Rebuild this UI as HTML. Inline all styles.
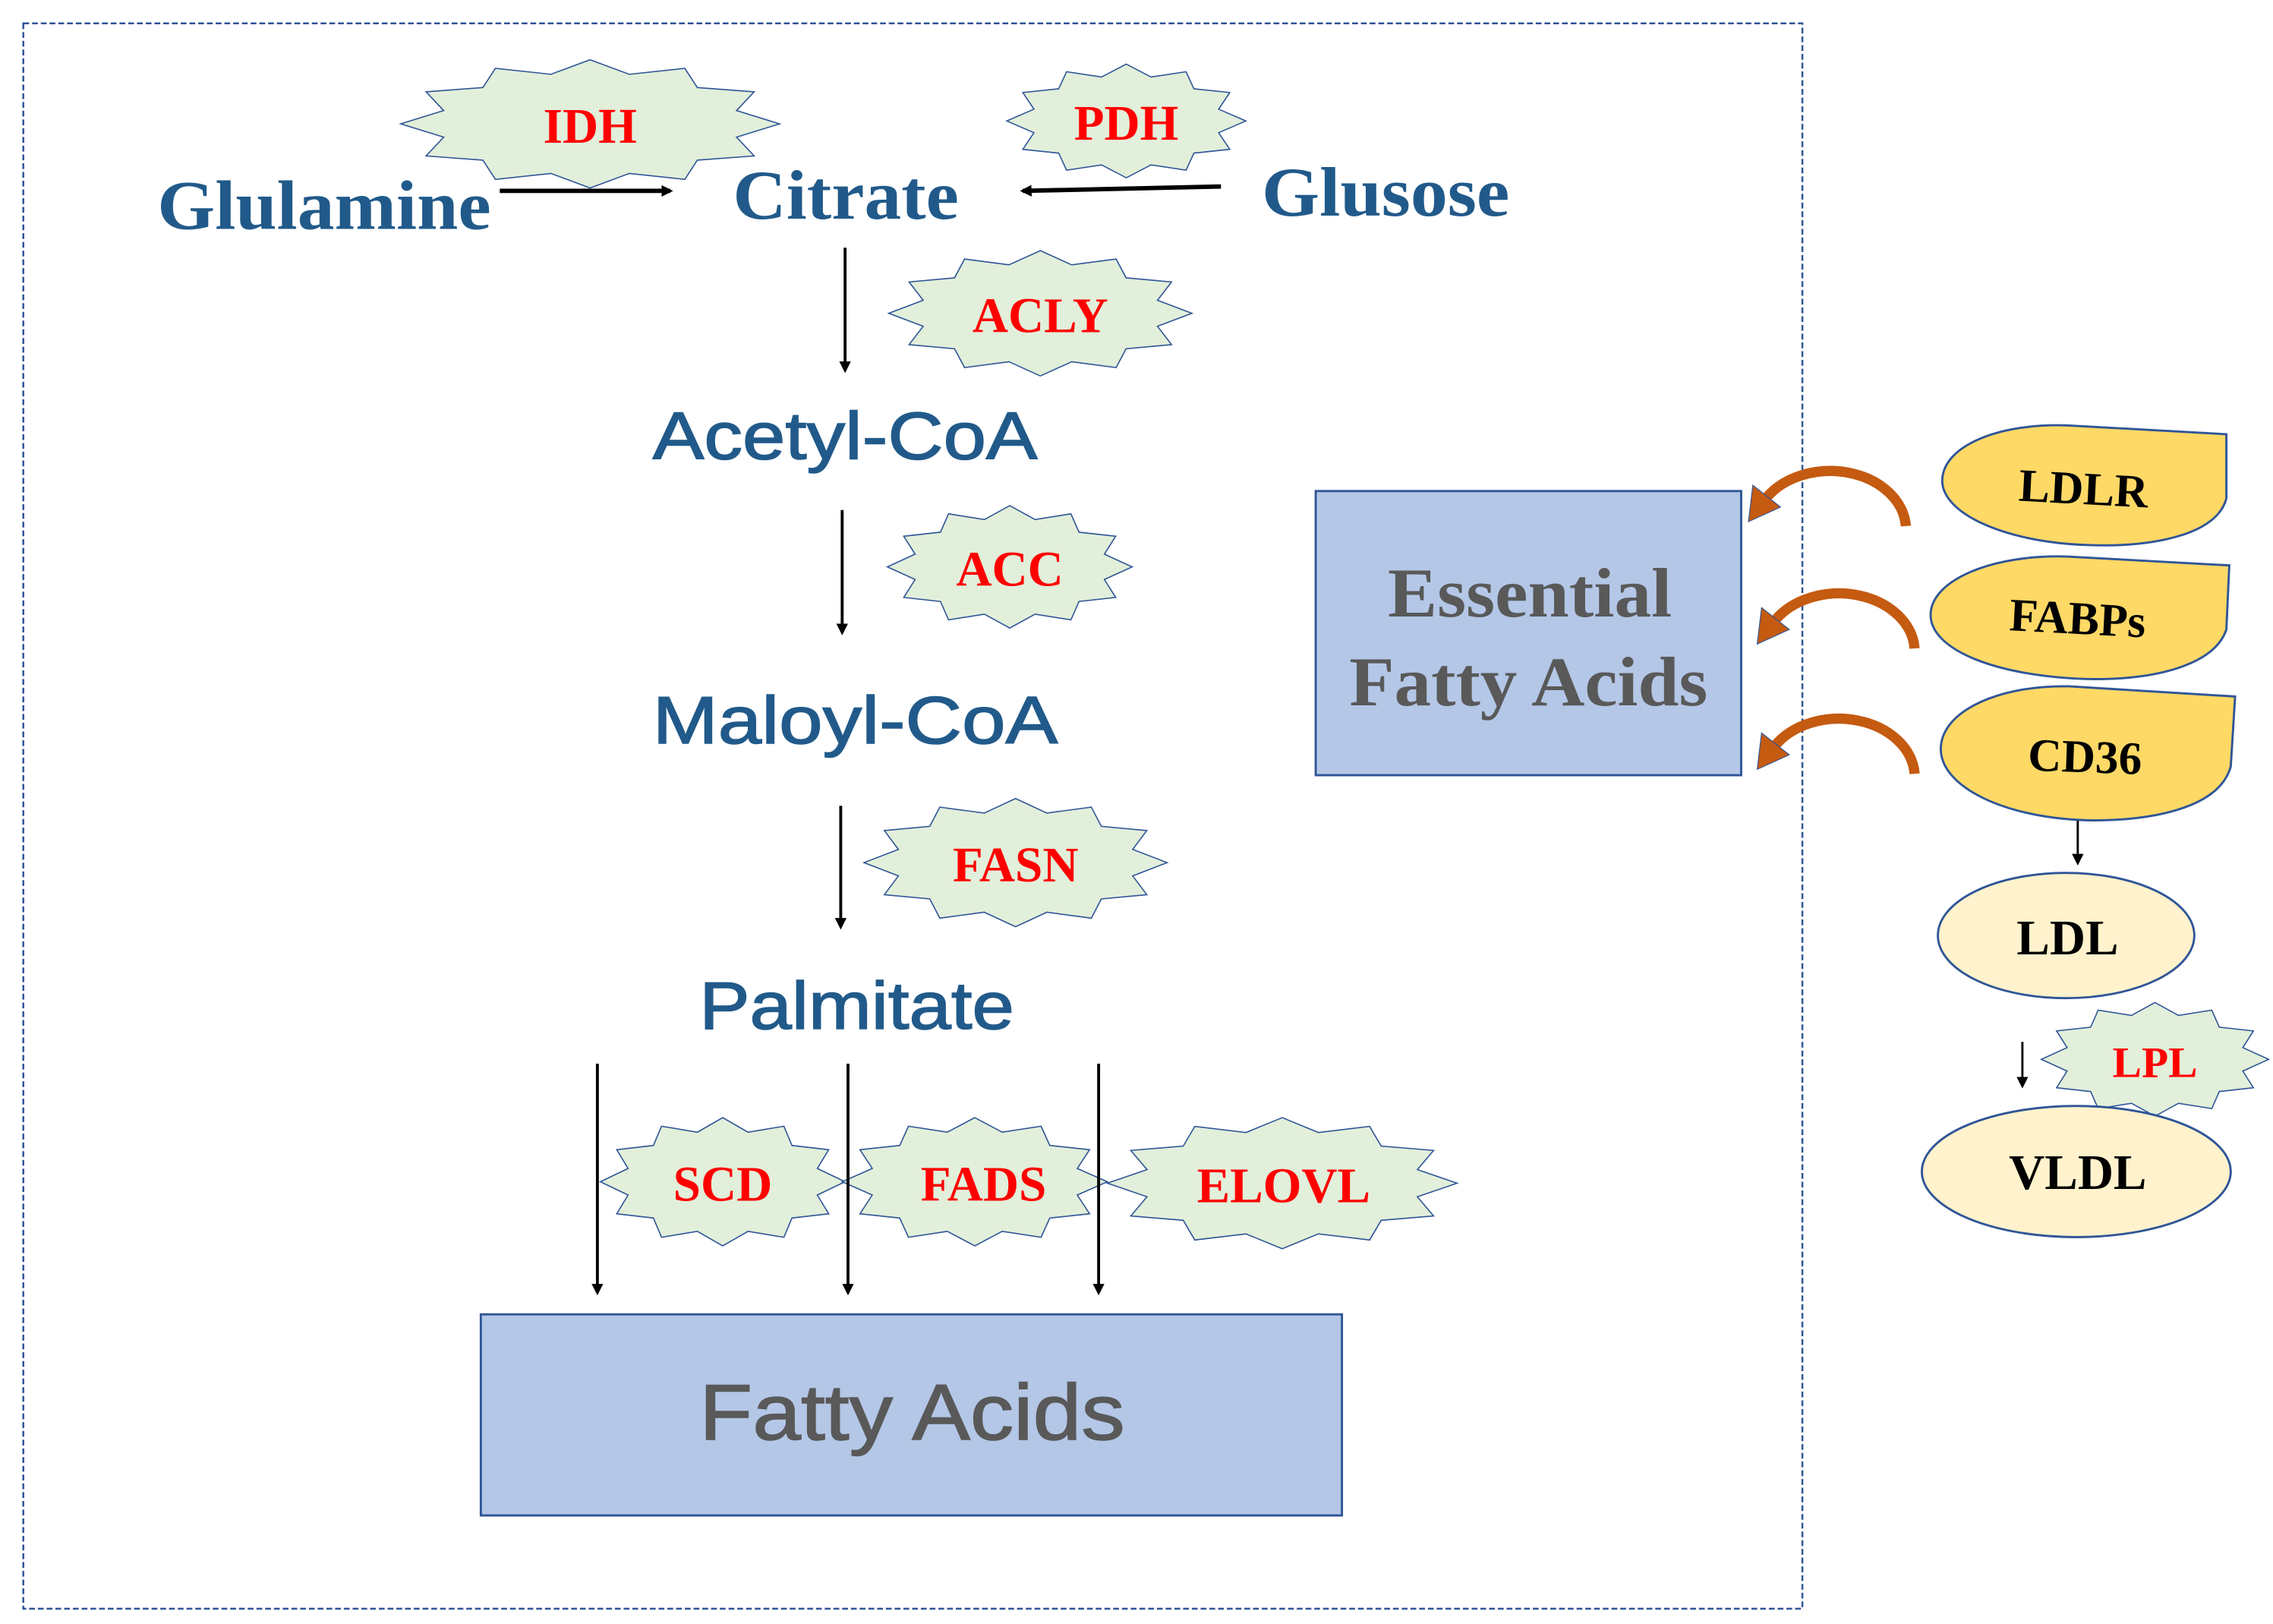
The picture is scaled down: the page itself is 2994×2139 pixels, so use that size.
<!DOCTYPE html>
<html><head><meta charset="utf-8"><style>html,body{margin:0;padding:0;background:#fff}svg{display:block}</style></head>
<body>
<svg width="2994" height="2139" viewBox="0 0 1560 1114.5" xmlns="http://www.w3.org/2000/svg">
<defs>
<polygon id="st" points="0,-1 0.207,-0.773 0.5,-0.866 0.566,-0.566 0.866,-0.5 0.773,-0.207 1,0 0.773,0.207 0.866,0.5 0.566,0.566 0.5,0.866 0.207,0.773 0,1 -0.207,0.773 -0.5,0.866 -0.566,0.566 -0.866,0.5 -0.773,0.207 -1,0 -0.773,-0.207 -0.866,-0.5 -0.566,-0.566 -0.5,-0.866 -0.207,-0.773" fill="#E2EFDA" stroke="#2F5597" stroke-width="1.6" vector-effect="non-scaling-stroke"/>
<marker id="ah" markerWidth="8" markerHeight="8" refX="6" refY="4" orient="auto" markerUnits="userSpaceOnUse"><path d="M0,0 L8,4 L0,8 Z" fill="#000"/></marker>
</defs>
<rect x="16" y="16" width="1221" height="1088" fill="none" stroke="#2F5597" stroke-width="1.3" stroke-dasharray="4,2"/>

<!-- stars -->
<use href="#st" transform="translate(405,85) scale(130,44)"/>
<use href="#st" transform="translate(773,83) scale(82,39)"/>
<use href="#st" transform="translate(714,215) scale(104,43)"/>
<use href="#st" transform="translate(693,389) scale(84,42)"/>
<use href="#st" transform="translate(697,592) scale(104,44)"/>
<use href="#st" transform="translate(496,811) scale(84,44)"/>
<use href="#st" transform="translate(669,811) scale(91,44)"/>
<use href="#st" transform="translate(880,812) scale(120,45)"/>
<use href="#st" transform="translate(1479,727) scale(78,39)"/>

<g font-family="Liberation Serif, serif" font-weight="bold" fill="#FF0000" font-size="34" text-anchor="middle">
<text x="405" y="98">IDH</text>
<text x="773" y="96">PDH</text>
<text x="714" y="228">ACLY</text>
<text x="693" y="402">ACC</text>
<text x="697" y="605">FASN</text>
<text x="496" y="824">SCD</text>
<text x="675" y="824">FADS</text>
<text x="881" y="825">ELOVL</text>
<text x="1479" y="739" font-size="30">LPL</text>
</g>

<g font-family="Liberation Serif, serif" font-weight="bold" fill="#215A8A" font-size="48">
<text x="108" y="157" textLength="229" lengthAdjust="spacingAndGlyphs">Glulamine</text>
<text x="503" y="150" textLength="155" lengthAdjust="spacingAndGlyphs">Citrate</text>
<text x="866" y="148" textLength="170" lengthAdjust="spacingAndGlyphs">Glusose</text>
</g>
<g font-family="Liberation Sans, sans-serif" fill="#215A8A" stroke="#215A8A" stroke-width="0.8" font-size="46">
<text x="448" y="315" textLength="264" lengthAdjust="spacingAndGlyphs">Acetyl-CoA</text>
<text x="448" y="510" textLength="278" lengthAdjust="spacingAndGlyphs">Maloyl-CoA</text>
<text x="480" y="706" textLength="216" lengthAdjust="spacingAndGlyphs">Palmitate</text>
</g>

<!-- arrows -->
<g stroke="#000" stroke-width="3" fill="none">
<line x1="343" y1="131" x2="460" y2="131" marker-end="url(#ah)"/>
<line x1="838" y1="128" x2="702" y2="131" marker-end="url(#ah)"/>
</g>
<g stroke="#000" stroke-width="2" fill="none">
<line x1="580" y1="170" x2="580" y2="254" marker-end="url(#ah)"/>
<line x1="578" y1="350" x2="578" y2="434" marker-end="url(#ah)"/>
<line x1="577" y1="553" x2="577" y2="636" marker-end="url(#ah)"/>
<line x1="410" y1="730" x2="410" y2="887" marker-end="url(#ah)"/>
<line x1="582" y1="730" x2="582" y2="887" marker-end="url(#ah)"/>
<line x1="754" y1="730" x2="754" y2="887" marker-end="url(#ah)"/>
<line x1="1426" y1="563" x2="1426" y2="592" stroke-width="1.5" marker-end="url(#ah)"/>
<line x1="1388" y1="715" x2="1388" y2="745" stroke-width="1.5" marker-end="url(#ah)"/>
</g>

<!-- Fatty acids box -->
<rect x="330" y="902" width="591" height="138" fill="#B4C7E7" stroke="#2F5597" stroke-width="1.5"/>
<text x="626" y="988" text-anchor="middle" font-family="Liberation Sans, sans-serif" font-size="54" fill="#595959" stroke="#595959" stroke-width="0.8" textLength="292" lengthAdjust="spacingAndGlyphs">Fatty Acids</text>

<!-- Essential box -->
<rect x="903" y="337" width="292" height="195" fill="#B4C7E7" stroke="#2F5597" stroke-width="1.5"/>
<g font-family="Liberation Serif, serif" font-weight="bold" font-size="48" fill="#595959" text-anchor="middle">
<text x="1050" y="423" textLength="195" lengthAdjust="spacingAndGlyphs">Essential</text>
<text x="1049" y="484" textLength="246" lengthAdjust="spacingAndGlyphs">Fatty Acids</text>
</g>

<!-- curved arrows -->
<g fill="none" stroke="#C55A11" stroke-width="7">
<path d="M1308,361 A52,40 0 0 0 1212,342"/>
<path d="M1314,445 A52,40 0 0 0 1218,426"/>
<path d="M1314,531 A52,40 0 0 0 1218,512"/>
</g>
<g fill="#C55A11" stroke="#2F5597" stroke-width="0.6">
<polygon points="1200,358 1203,333 1222,348"/>
<polygon points="1206,442 1209,417 1228,432"/>
<polygon points="1206,528 1209,503 1228,518"/>
</g>

<!-- leaf shapes -->
<g fill="#FFD966" stroke="#2F5597" stroke-width="1.5">
<path d="M1528,298 L1528,342 C1522,366 1480,376 1432,374 C1375,372 1333,352 1333,330 C1333,306 1372,290 1420,292 Z"/>
<path d="M1530,388 L1528,432 C1520,456 1480,467 1432,466 C1370,464 1325,446 1325,422 C1325,398 1368,380 1420,382 Z"/>
<path d="M1534,478 L1531,526 C1524,552 1484,563 1436,563 C1376,562 1332,540 1332,514 C1332,488 1372,470 1420,471 Z"/>
</g>
<g font-family="Liberation Serif, serif" font-weight="bold" font-size="32" fill="#000" text-anchor="middle">
<text x="1430" y="346" transform="rotate(3 1430 335)">LDLR</text>
<text x="1426" y="435" transform="rotate(3 1426 424)">FABPs</text>
<text x="1431" y="530" transform="rotate(2 1431 519)">CD36</text>
</g>

<ellipse cx="1418" cy="642" rx="88" ry="43" fill="#FFF2CC" stroke="#2F5597" stroke-width="1.5"/>
<ellipse cx="1425" cy="804" rx="106" ry="45" fill="#FFF2CC" stroke="#2F5597" stroke-width="1.5"/>
<g font-family="Liberation Serif, serif" font-weight="bold" font-size="34" fill="#000" text-anchor="middle">
<text x="1419" y="655">LDL</text>
<text x="1426" y="816">VLDL</text>
</g>
<use href="#st" transform="translate(1479,727) scale(78,39)" opacity="0"/>
</svg>
</body></html>
